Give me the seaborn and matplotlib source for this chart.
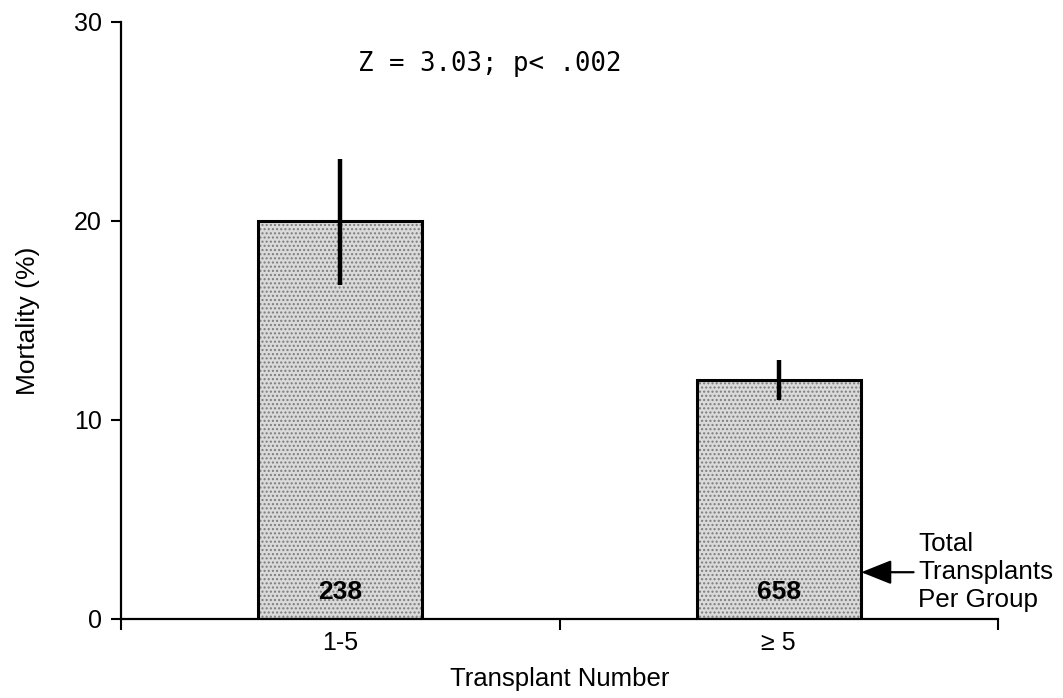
import matplotlib
matplotlib.use("Agg")
import matplotlib.pyplot as plt
import seaborn as sns
import pandas as pd

categories = ["1-5", "\u2265 5"]
mortality = [20.0, 12.0]
err_high = [23.1, 13.0]
err_low = [16.8, 11.0]
n_transplants = ["238", "658"]
y_ticks = [0, 10, 20, 30]
stat_text = "Z = 3.03; p< .002"

sns.set_theme(style="ticks")
plt.rcParams["font.family"] = ["Liberation Sans", "DejaVu Sans"]
plt.rcParams["hatch.linewidth"] = 1.0
plt.rcParams["text.color"] = "black"

fig = plt.figure(figsize=(10.63, 6.98), dpi=100)
ax = fig.add_axes([0.1138, 0.1132, 0.8251, 0.8553])

df = pd.DataFrame({"group": categories, "mortality": mortality})
# stippled fill
sns.barplot(data=df, x="group", y="mortality", ax=ax, width=0.374,
            color="#dadada", saturation=1, edgecolor="#7c7c7c", linewidth=0,
            hatch="....", errorbar=None)
# black outline
sns.barplot(data=df, x="group", y="mortality", ax=ax, width=0.374,
            color="black", saturation=1, fill=False, linewidth=2.2,
            errorbar=None)

# error bars
ax.vlines(range(len(categories)), err_low, err_high, color="black",
          linewidth=3.2, zorder=5)

# counts inside bars
for i, n in enumerate(n_transplants):
    ax.text(i, 1.35, n, ha="center", va="center", fontsize=19,
            fontweight="bold", color="black", zorder=6)

ax.set_xlim(-0.5, 1.5)
ax.set_ylim(0, 30)
ax.set_yticks(y_ticks)
ax.set_xticks(range(len(categories)))
ax.set_xticklabels(categories)
ax.set_xticks([-0.5, 0.5, 1.5], minor=True)
ax.tick_params(axis="x", which="major", length=0, pad=9, labelsize=18,
               colors="black")
ax.tick_params(axis="x", which="minor", length=8, width=1.5, direction="out",
               color="black")
ax.tick_params(axis="y", length=7, width=1.5, pad=7, labelsize=18,
               colors="black")

sns.despine(ax=ax)
for side in ["left", "bottom"]:
    ax.spines[side].set_linewidth(1.6)
    ax.spines[side].set_color("black")

ax.set_xlabel("Transplant Number", fontsize=18.5, labelpad=8, color="black")
ax.set_ylabel("Mortality (%)", fontsize=19, labelpad=24, color="black")

ax.text(0.341, 27.9, stat_text, ha="center", va="center", fontsize=18.5,
        family="DejaVu Sans Mono", color="black")

ax.annotate("Total\nTransplants\nPer Group", xy=(1.188, 2.35),
            xytext=(1.318, 2.35), ha="left", va="center", fontsize=18.7,
            linespacing=1.2, annotation_clip=False, color="black",
            arrowprops=dict(arrowstyle="-|>,head_length=1.0,head_width=0.4",
                            color="black", lw=1.6, shrinkA=1, shrinkB=0))

fig.savefig("out.png", dpi=100)
